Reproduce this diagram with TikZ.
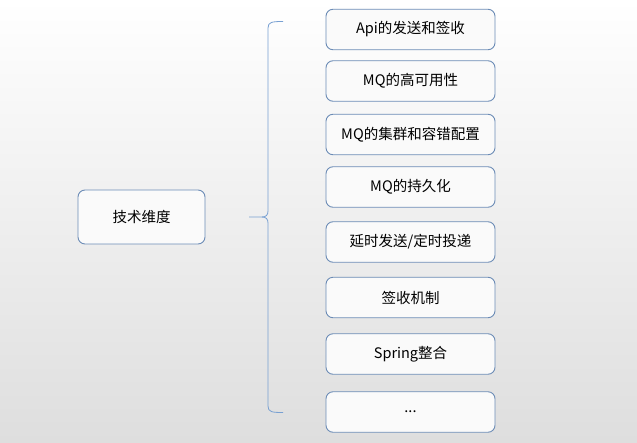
\documentclass[tikz,border=0pt]{standalone}
\usepackage{fontspec}
\setmainfont{Noto Sans CJK SC}
\definecolor{boxline}{RGB}{108,140,182}
\definecolor{boxfill}{RGB}{250,250,250}
\definecolor{bracecol}{RGB}{120,160,210}
\definecolor{bgbottom}{RGB}{222,222,222}
\begin{document}
\begin{tikzpicture}[x=1pt,y=-1pt,
  item/.style={draw=boxline,fill=boxfill,line width=0.9pt,rounded corners=7pt,
    minimum width=169pt,minimum height=40.5pt,inner sep=0pt,
    font=\fontsize{14.5}{16}\selectfont,text=black},
  rootbox/.style={item,minimum width=127pt,minimum height=54pt},
  bracestyle/.style={draw=bracecol,line width=0.8pt}]
\shade[top color=white,bottom color=bgbottom] (0,0) rectangle (637,442);
\useasboundingbox (0,0) rectangle (637,442);
\node[rootbox] (root) at (141.5,217) {技术维度};
\node[item] (b1) at (410.5,29.5) {Api的发送和签收};
\node[item] (b2) at (410.5,81) {MQ的高可用性};
\node[item] (b3) at (410.5,134.5) {MQ的集群和容错配置};
\node[item] (b4) at (410.5,187) {MQ的持久化};
\node[item] (b5) at (410.5,242) {延时发送/定时投递};
\node[item] (b6) at (410.5,297.5) {签收机制};
\node[item] (b7) at (410.5,354) {Spring整合};
\node[item] (b8) at (410.5,412) {...};
\coordinate (btop) at (283,21.5);
\coordinate (btip) at (249,217);
\coordinate (bbot) at (283,412.5);
\draw[bracestyle] (btop) .. controls (272,21.5) and (268,22) .. (268,28)
  -- (268,211) .. controls (268,215) and (266,217) .. (262,217) -- (btip);
\draw[bracestyle] (262,217) .. controls (266,217) and (268,219) .. (268,223)
  -- (268,406) .. controls (268,412) and (272,412.5) .. (bbot);
\end{tikzpicture}
\end{document}
